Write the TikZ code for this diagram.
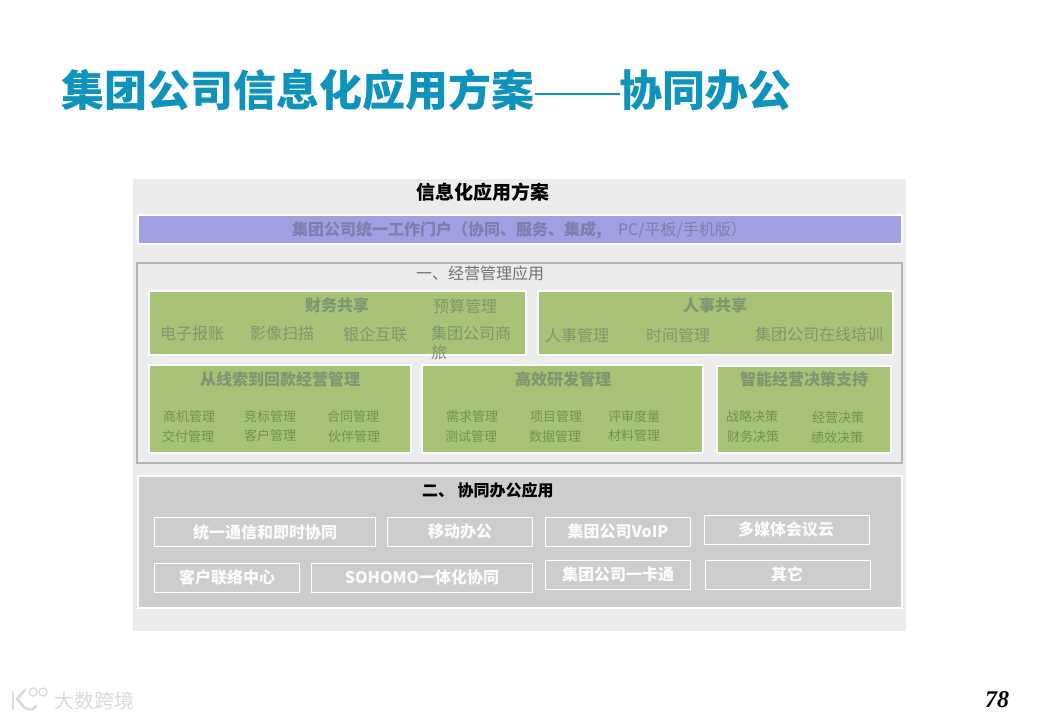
\documentclass[tikz,border=0pt]{standalone}
\usepackage{fontspec}
\setmainfont{Noto Sans CJK SC}
\newfontfamily\serifnum{Liberation Serif}
\definecolor{titlec}{HTML}{0E93BC}
\definecolor{panel}{HTML}{ECECEC}
\definecolor{portal}{HTML}{A0A0E2}
\definecolor{portalt}{HTML}{7D7FAE}
\definecolor{green1}{HTML}{A8C277}
\definecolor{gt}{HTML}{7F9770}
\definecolor{gts}{HTML}{73944F}
\definecolor{frameg}{HTML}{B4B4B4}
\definecolor{sec}{HTML}{CDCDCD}
\definecolor{wm}{HTML}{DADADA}
\tikzset{
  x=1pt,y=-1pt,
  txt/.style={inner sep=0pt,outer sep=0pt,anchor=center},
  greenbox/.style={fill=green1,draw=white,line width=1.6pt},
  officebox/.style={draw=white,line width=1pt},
  big/.style={txt,font=\fontsize{16}{18}\selectfont\bfseries,text=gt},
  mid/.style={txt,font=\fontsize{16}{18}\selectfont,text=gt},
  small/.style={txt,font=\fontsize{13}{15}\selectfont,text=gts},
  off/.style={txt,font=\fontsize{16}{18}\selectfont\bfseries,text=white!92!sec},
}
\begin{document}
\begin{tikzpicture}
\useasboundingbox (0,0) rectangle (1040,720);
\fill[white] (0,0) rectangle (1040,720);
\node[txt,anchor=west,text=titlec,font=\fontsize{43}{48}\selectfont\bfseries] (title) at (61,90) {集团公司信息化应用方案};
\draw[titlec,line width=1.2pt] (535,94) -- (620,94);
\node[txt,anchor=west,text=titlec,font=\fontsize{43}{48}\selectfont\bfseries] (title2) at (619,90) {协同办公};
% panel
\fill[panel] (133,179) rectangle (906,631);
\node[txt,font=\fontsize{19}{21}\selectfont\bfseries,text=black] (head) at (483,192) {信息化应用方案};
\draw[fill=portal,draw=white,line width=1.6pt] (138,215) rectangle (902,244);
\node[txt,font=\fontsize{16}{18}\selectfont\bfseries,text=portalt,anchor=west] (p1) at (292,230) {集团公司统一工作门户（协同、服务、集成,};
\node[txt,font=\fontsize{16}{18}\selectfont,text=portalt,anchor=west] (p2) at (618,230) {PC/平板/手机版）};
% section one
\draw[frameg,line width=1.5pt] (137,263) rectangle (902,463);
\node[txt,font=\fontsize{16}{18}\selectfont,text=black!55,anchor=west] (s1) at (416,273) {一、经营管理应用};
\path[greenbox] (149,291) rectangle (526,355);
\path[greenbox] (538,291) rectangle (893,355);
\path[greenbox] (149,365) rectangle (411,453);
\path[greenbox] (422,365) rectangle (703,453);
\path[greenbox] (717,366) rectangle (891,453);
% finance
\node[big] (f0) at (337,305) {财务共享};
\node[mid] (f1) at (465,306) {预算管理};
\node[mid] (f2) at (192,333) {电子报账};
\node[mid] (f3) at (282,333) {影像扫描};
\node[mid] (f4) at (375,334) {银企互联};
\node[mid,anchor=west] (f5) at (431,333) {集团公司商};
\node[mid,anchor=west] (f6) at (431,352) {旅};
% hr
\node[big] (h0) at (715,305) {人事共享};
\node[mid] (h1) at (577,335) {人事管理};
\node[mid] (h2) at (678,335) {时间管理};
\node[mid] (h3) at (819,334) {集团公司在线培训};
% lead
\node[big] (l0) at (280,379) {从线索到回款经营管理};
\node[small] (l1) at (189,417) {商机管理};
\node[small] (l2) at (270,417) {竞标管理};
\node[small] (l3) at (353,417) {合同管理};
\node[small] (l4) at (188,437) {交付管理};
\node[small] (l5) at (270,436) {客户管理};
\node[small] (l6) at (354,437) {伙伴管理};
% rd
\node[big] (r0) at (563,379) {高效研发管理};
\node[small] (r1) at (472,417) {需求管理};
\node[small] (r2) at (556,417) {项目管理};
\node[small] (r3) at (634,417) {评审度量};
\node[small] (r4) at (471,437) {测试管理};
\node[small] (r5) at (555,437) {数据管理};
\node[small] (r6) at (634,436) {材料管理};
% decision
\node[big] (d0) at (804,379) {智能经营决策支持};
\node[small] (d1) at (752,417) {战略决策};
\node[small] (d2) at (838,418) {经营决策};
\node[small] (d3) at (753,437) {财务决策};
\node[small] (d4) at (837,438) {绩效决策};
% section two
\draw[fill=sec,draw=white,line width=1.6pt] (138,476) rectangle (902,608);
\node[txt,font=\fontsize{16}{18}\selectfont\bfseries,text=black,anchor=west] (s2) at (422,490) {二、 协同办公应用};
\draw[officebox] (154,517) rectangle (375.5,546);
\draw[officebox] (387,517) rectangle (532.5,546);
\draw[officebox] (545,517) rectangle (690.5,546);
\draw[officebox] (704,515) rectangle (869.5,544);
\draw[officebox] (154,563) rectangle (299.5,592);
\draw[officebox] (311,563) rectangle (532.5,592);
\draw[officebox] (545,560) rectangle (690.5,589);
\draw[officebox] (705,560) rectangle (870.5,589);
\node[off] (o1) at (265,532) {统一通信和即时协同};
\node[off] (o2) at (460,531) {移动办公};
\node[off] (o3) at (618,531) {集团公司VoIP};
\node[off] (o4) at (786,529) {多媒体会议云};
\node[off] (o5) at (227,577) {客户联络中心};
\node[off] (o6) at (422,577) {SOHOMO一体化协同};
\node[off] (o7) at (618,574) {集团公司一卡通};
\node[off] (o8) at (787,574) {其它};
% watermark
\draw[wm,line width=2.6pt,line cap=round] (13,692) -- (13,709);
\draw[wm,line width=2.6pt,line cap=round] (25,690) -- (17,699) -- (24,707) .. controls (28,711) and (33,710) .. (36,706);
\draw[wm,line width=1.4pt] (33,692) circle (4) (43,692) circle (4);
\node[txt,anchor=west,font=\fontsize{20}{22}\selectfont,text=wm] (wm1) at (54,701) {大数跨境};
\node[txt,font=\fontsize{24}{26}\selectfont\bfseries\itshape\serifnum,text=black] (pg) at (997,700) {78};
\end{tikzpicture}
\end{document}
